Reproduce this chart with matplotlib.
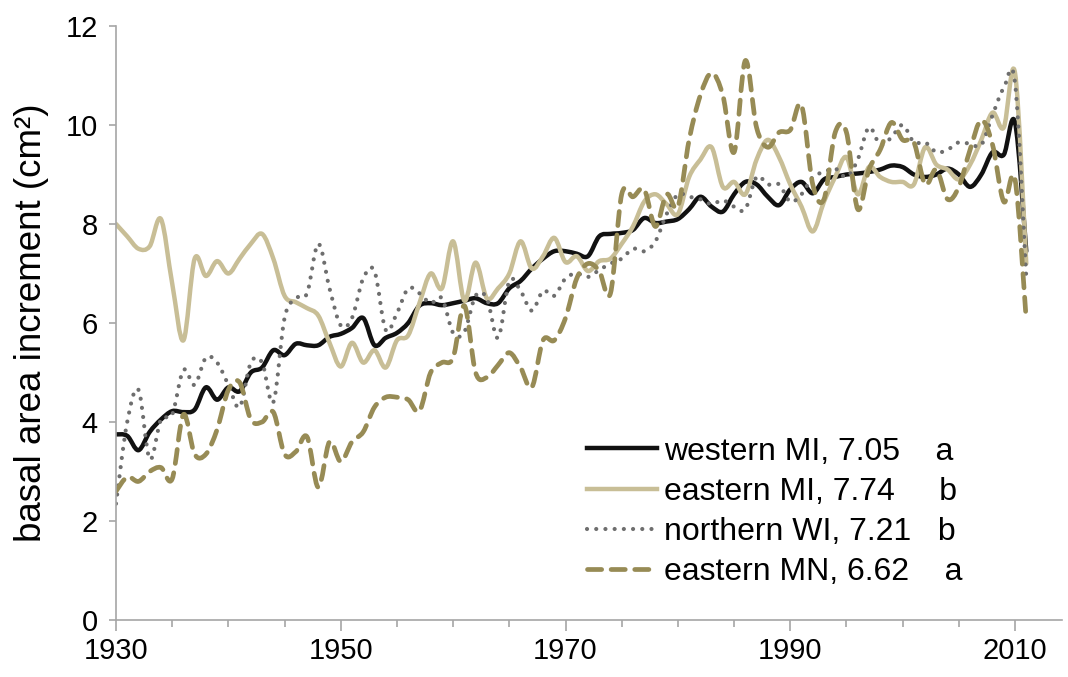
import numpy as np
import matplotlib.pyplot as plt
from matplotlib.ticker import MultipleLocator
from matplotlib.path import Path
from matplotlib.patches import PathPatch
from matplotlib.lines import Line2D

plt.rcParams['font.family'] = ['Liberation Sans', 'DejaVu Sans']

years = np.arange(1930, 2012)

# western MI
west_mi = [3.75, 3.72, 3.43, 3.8, 4.05, 4.22, 4.2, 4.25, 4.7, 4.45,
           4.7, 4.62, 5.0, 5.1, 5.45, 5.35, 5.58, 5.55, 5.55, 5.72,
           5.78, 5.9, 6.1, 5.55, 5.7, 5.8, 6.0, 6.35, 6.4, 6.36,
           6.4, 6.45, 6.5, 6.4, 6.4, 6.7, 6.85, 7.1, 7.3, 7.45,
           7.45, 7.4, 7.35, 7.75, 7.8, 7.82, 7.88, 8.12, 8.02, 8.05,
           8.1, 8.3, 8.55, 8.35, 8.25, 8.6, 8.85, 8.8, 8.55, 8.38,
           8.7, 8.85, 8.62, 8.9, 8.95, 9.0, 9.02, 9.05, 9.1, 9.18,
           9.15, 9.0, 8.95, 9.0, 9.12, 9.0, 8.75, 9.0, 9.45, 9.4,
           10.05, 7.45]

# eastern MI
east_mi = [8.0, 7.75, 7.5, 7.55, 8.1, 6.8, 5.65, 7.3, 6.95, 7.25,
           7.0, 7.3, 7.6, 7.8, 7.3, 6.55, 6.42, 6.3, 6.15, 5.6,
           5.12, 5.6, 5.2, 5.45, 5.1, 5.65, 5.75, 6.4, 7.0, 6.7,
           7.65, 6.45, 7.22, 6.5, 6.7, 7.0, 7.65, 7.1, 7.35, 7.72,
           7.23, 7.35, 7.05, 7.25, 7.3, 7.6, 7.95, 8.45, 8.6, 8.4,
           8.2, 8.95, 9.3, 9.55, 8.75, 8.85, 8.6, 9.3, 9.7, 9.35,
           8.8, 8.35, 7.85, 8.45, 8.95, 9.35, 8.6, 9.15, 8.95, 8.85,
           8.85, 8.8, 9.55, 9.2, 9.1, 8.9, 9.2, 9.7, 10.25, 9.95,
           11.05, 7.2]

# northern WI
north_wi = [2.35, 4.0, 4.65, 3.25, 4.05, 4.15, 5.05, 4.75, 5.3, 5.2,
            4.75, 4.3, 5.2, 5.2, 4.4, 6.1, 6.5, 6.6, 7.6, 6.7,
            5.95, 6.1, 6.9, 7.05, 5.86, 6.2, 6.7, 6.6, 6.4, 6.5,
            5.8, 5.82, 6.55, 6.5, 5.7, 6.85, 6.65, 6.25, 6.65, 6.55,
            6.9, 7.0, 6.93, 7.07, 7.2, 7.3, 7.5, 7.45, 7.65, 8.2,
            8.6, 8.55, 8.5, 8.4, 8.48, 8.35, 8.3, 8.95, 8.8, 8.8,
            8.45, 8.6, 8.95, 9.05, 9.12, 8.95, 9.3, 9.95, 9.6, 9.75,
            10.0, 9.65, 9.65, 9.45, 9.5, 9.65, 9.62, 9.6, 10.2, 10.75,
            10.85, 6.9]

# eastern MN
east_mn = [2.6, 2.89, 2.8, 3.0, 3.08, 2.85, 4.15, 3.35, 3.35, 3.85,
           4.65, 4.8, 4.05, 4.0, 4.2, 3.35, 3.4, 3.7, 2.68, 3.6,
           3.2, 3.6, 3.8, 4.3, 4.5, 4.5, 4.45, 4.22, 5.0, 5.2,
           5.3, 6.35, 5.0, 4.9, 5.15, 5.4, 5.1, 4.7, 5.65, 5.65,
           6.1, 6.9, 7.2, 7.05, 6.6, 8.6, 8.55, 8.7, 7.95, 8.6,
           8.35, 9.7, 10.6, 11.05, 10.6, 9.45, 11.3, 9.95, 9.55, 9.85,
           9.9, 10.4, 8.8, 8.5, 9.85, 9.85, 8.3, 9.1, 9.5, 10.05,
           9.7, 9.65, 8.8, 9.1, 8.5, 8.75, 9.5, 10.1, 9.6, 8.45,
           8.9, 6.05]

labels = ['western MI, 7.05    a',
          'eastern MI, 7.74     b',
          'northern WI, 7.21   b',
          'eastern MN, 6.62    a']


def smooth_path(x, y):
    # Excel-style smoothed line: cubic Bezier through every data point
    p = np.column_stack([x, y]).astype(float)
    n = len(p)
    verts = [p[0]]
    codes = [Path.MOVETO]
    for i in range(n - 1):
        p0 = p[i - 1] if i > 0 else p[i]
        p3 = p[i + 2] if i + 2 < n else p[i + 1]
        c1 = p[i] + (p[i + 1] - p0) / 6.0
        c2 = p[i + 1] - (p3 - p[i]) / 6.0
        verts += [c1, c2, p[i + 1]]
        codes += [Path.CURVE4] * 3
    return Path(verts, codes)


fig = plt.figure(figsize=(10.68, 6.77), dpi=100)
ax = fig.add_axes([0.1086, 0.0842, 0.886, 0.8774])

styles = [dict(color='#111111', lw=3.2, linestyle='-'),
          dict(color='#C8BE96', lw=3.2, linestyle='-'),
          dict(color='#6E6E6E', lw=3.0, linestyle=(0, (0.01, 2.2))),
          dict(color='#978B55', lw=3.4, linestyle=(0, (3.0, 2.0)))]
series = [west_mi, east_mi, north_wi, east_mn]

handles = []
for vals, st, lab in zip(series, styles, labels):
    patch = PathPatch(smooth_path(years, vals), facecolor='none', edgecolor=st['color'],
                      lw=st['lw'], linestyle=st['linestyle'], capstyle='round',
                      joinstyle='round', transform=ax.transData)
    ax.add_patch(patch)
    handles.append(Line2D([], [], color=st['color'], lw=st['lw'], linestyle=st['linestyle'],
                          dash_capstyle='round', label=lab))

ax.set_xlim(1930, 2014.2)
ax.set_ylim(0, 12)
ax.set_xticks([1930, 1950, 1970, 1990, 2010])
ax.xaxis.set_minor_locator(MultipleLocator(5))
ax.yaxis.set_major_locator(MultipleLocator(2))

for s in ['top', 'right']:
    ax.spines[s].set_visible(False)
for s in ['left', 'bottom']:
    ax.spines[s].set_color('#A6A6A6')
    ax.spines[s].set_linewidth(1.2)

ax.tick_params(axis='both', which='both', color='#A6A6A6', width=1.2, labelsize=21)
ax.tick_params(axis='x', which='major', length=8, pad=4)
ax.tick_params(axis='x', which='minor', length=5)
ax.tick_params(axis='y', which='major', length=5, pad=8)

ax.set_ylabel('basal area increment (cm²)', fontsize=26.5, labelpad=12)

ax.legend(handles=handles, loc='lower left', bbox_to_anchor=(0.498, 0.055), frameon=False,
          fontsize=23, handlelength=2.2, handletextpad=0.2, labelspacing=0.32,
          borderpad=0, borderaxespad=0)

fig.savefig('out.png', dpi=100)
